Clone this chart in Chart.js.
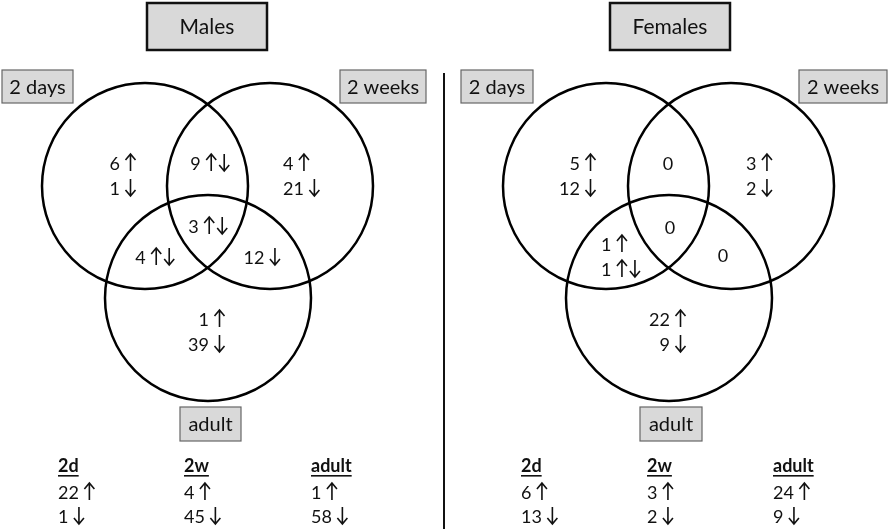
<!DOCTYPE html>
<html>
<head>
<meta charset="utf-8">
<script src="https://cdn.jsdelivr.net/npm/chart.js@4/dist/chart.umd.min.js"></script>
<style>
  html, body { margin: 0; padding: 0; background: #fff; }
  #venn { display: block; }
</style>
</head>
<body>
<canvas id="venn" width="889" height="529"></canvas>
<script>
// Panel titles and circle names
const groups = ['Males', 'Females'];
const circleNames = ['2 days', '2 weeks', 'adult'];

// Region counts: 2d only, 2d+2w, 2w only, all three, 2d+adult, 2w+adult, adult only
const maleRegionText = [['6 ↑', '1 ↓'], ['9 ↑↓'], ['4 ↑', '21 ↓'], ['3 ↑↓'], ['4 ↑↓'], ['12 ↓'], ['1 ↑', '39 ↓']];
const femaleRegionText = [['5 ↑', '12 ↓'], ['0'], ['3 ↑', '2 ↓'], ['0'], ['1 ↑', '1 ↑↓'], ['0'], ['22 ↑', '9 ↓']];

// Totals under each diagram
const totalHeaders = ['2d', '2w', 'adult'];
const maleTotalsUp = [22, 4, 1];
const maleTotalsDown = [1, 45, 58];
const femaleTotalsUp = [6, 3, 24];
const femaleTotalsDown = [13, 2, 9];

// Layout (pixel-sized data space)
const panels = [
    { circles: [[145, 186], [270, 186], [208, 298]], title: [147, 3, 120, 47],
      boxes: [[2, 70, 71, 33], [340, 70, 86, 33], [180, 407, 61, 34]],
      regions: [[136, 'right'], [210, 'center'], [283, 'left'], [208, 'center'], [155, 'center'], [262, 'center'], [225, 'right']],
      regionY: [163, 163, 163, 226, 257, 257, 319],
      totalsX: [58, 184, 311] },
    { circles: [[606, 186], [731, 186], [669, 298]], title: [610, 3, 120, 47],
      boxes: [[461, 70, 72, 33], [799, 70, 88, 33], [640, 407, 62, 34]],
      regions: [[596, 'right'], [668, 'center'], [746, 'left'], [670, 'center'], [601, 'left'], [723, 'center'], [686, 'right']],
      regionY: [163, 163, 163, 227, 244, 255, 319],
      totalsX: [521, 647, 773] }
];
const circleRadius = 103;
const lineGap = 25;
const font = "Lato, 'Liberation Sans', sans-serif";

const regionTexts = [maleRegionText, femaleRegionText];
const totalsUp = [maleTotalsUp, femaleTotalsUp];
const totalsDown = [maleTotalsDown, femaleTotalsDown];

const bubbles = [];
panels.forEach(p => p.circles.forEach(c => bubbles.push({ x: c[0], y: c[1], r: circleRadius })));

// thin arrow glyph, centred on (x, yc)
function arrow(ctx, x, yc, up) {
    const top = yc - 9, bot = yc + 8;
    ctx.beginPath();
    ctx.moveTo(x, top);
    ctx.lineTo(x, bot);
    if (up) {
        ctx.moveTo(x - 5, top + 6); ctx.lineTo(x, top); ctx.lineTo(x + 5, top + 6);
    } else {
        ctx.moveTo(x - 5, bot - 6); ctx.lineTo(x, bot); ctx.lineTo(x + 5, bot - 6);
    }
    ctx.stroke();
}

// number followed by arrows, yc = visual centre of the digits
function drawMixed(ctx, text, x, yc, align) {
    const num = text.replace(/[↑↓\s]/g, '');
    const arrows = text.replace(/[^↑↓]/g, '');
    ctx.font = '18px ' + font;
    const nw = ctx.measureText(num).width;
    const gap = arrows.length ? 5 : 0;
    const total = nw + gap + arrows.length * 13 - (arrows.length ? 2 : 0);
    let cx = align === 'right' ? x - total : align === 'center' ? x - total / 2 : x;
    ctx.textAlign = 'left';
    ctx.textBaseline = 'alphabetic';
    ctx.fillText(num, cx, yc + 6.5);
    cx += nw + gap;
    ctx.strokeStyle = '#111';
    ctx.lineWidth = 1.6;
    ctx.lineCap = 'butt';
    ctx.lineJoin = 'miter';
    for (const a of arrows) {
        arrow(ctx, cx + 5.5, yc, a === '↑');
        cx += 13;
    }
}

const annotations = {
    id: 'annotations',
    afterDatasetsDraw(chart) {
        const ctx = chart.ctx;
        const sx = v => chart.scales.x.getPixelForValue(v);
        const sy = v => chart.scales.y.getPixelForValue(v);

        function box(b, text, size, border, lw) {
            const x = sx(b[0]), y = sy(b[1]);
            const w = sx(b[0] + b[2]) - x, h = sy(b[1] + b[3]) - y;
            ctx.fillStyle = '#d9d9d9';
            ctx.fillRect(x, y, w, h);
            ctx.strokeStyle = border;
            ctx.lineWidth = lw;
            ctx.strokeRect(x, y, w, h);
            ctx.fillStyle = '#111';
            ctx.font = size + 'px ' + font;
            ctx.textAlign = 'center';
            ctx.textBaseline = 'middle';
            ctx.fillText(text, x + w / 2, y + h / 2 + 1);
        }

        ctx.save();
        // divider
        ctx.strokeStyle = '#111';
        ctx.lineWidth = 2;
        ctx.beginPath();
        ctx.moveTo(sx(444), sy(73));
        ctx.lineTo(sx(444), sy(529));
        ctx.stroke();

        panels.forEach((p, gi) => {
            box(p.title, groups[gi], 21, '#111', 2.5);
            p.boxes.forEach((b, i) => box(b, circleNames[i], 20, '#666', 1.2));

            ctx.fillStyle = '#111';
            regionTexts[gi].forEach((lines, ri) => {
                lines.forEach((t, li) => {
                    drawMixed(ctx, t, sx(p.regions[ri][0]), sy(p.regionY[ri] + li * lineGap), p.regions[ri][1]);
                });
            });

            totalHeaders.forEach((h, i) => {
                const x = sx(p.totalsX[i]);
                ctx.textAlign = 'left';
                ctx.textBaseline = 'alphabetic';
                ctx.font = 'bold 18px ' + font;
                ctx.fillText(h, x, sy(472));
                const w = ctx.measureText(h).width;
                ctx.fillRect(x, sy(475), w, 1.6);
                drawMixed(ctx, totalsUp[gi][i] + ' ↑', x, sy(492), 'left');
                drawMixed(ctx, totalsDown[gi][i] + ' ↓', x, sy(516), 'left');
            });
        });
        ctx.restore();
    }
};

new Chart(document.getElementById('venn').getContext('2d'), {
    type: 'bubble',
    data: {
        datasets: [{
            data: bubbles,
            backgroundColor: 'rgba(0,0,0,0)',
            borderColor: '#000',
            borderWidth: 2.5,
            clip: false
        }]
    },
    options: {
        responsive: false,
        animation: false,
        events: [],
        layout: { padding: 0, autoPadding: false },
        plugins: { legend: { display: false }, tooltip: { enabled: false } },
        scales: {
            x: { type: 'linear', min: 0, max: 889, display: false },
            y: { type: 'linear', min: 0, max: 529, reverse: true, display: false }
        }
    },
    plugins: [annotations]
});
</script>
</body>
</html>
